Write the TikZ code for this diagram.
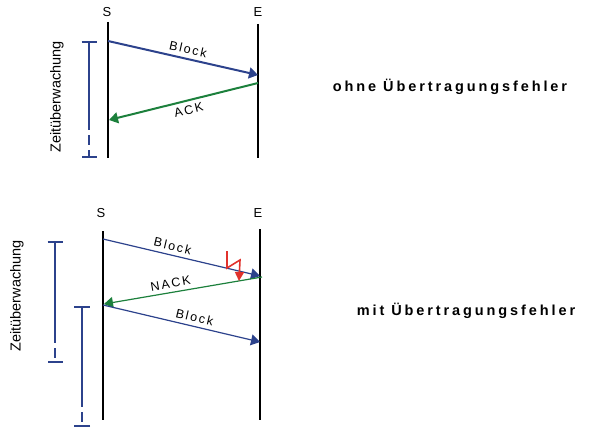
\documentclass[tikz,border=0pt]{standalone}
\usepackage{fontspec}
\setmainfont{Liberation Sans}
\newfontfamily\widefont[LetterSpace=15]{Liberation Sans}
\newfontfamily\capfont[LetterSpace=20]{Liberation Sans}
\usetikzlibrary{arrows.meta}
\definecolor{msgblue}{RGB}{44,66,140}
\definecolor{msggreen}{RGB}{28,128,60}
\definecolor{errred}{RGB}{225,50,45}

\begin{document}
\begin{tikzpicture}[x=1pt, y=-1pt,
    station/.style={font=\fontsize{13}{15}\selectfont},
    lifeline/.style={draw=black, line width=2.6pt},
    thinlife/.style={draw=black, line width=1.9pt},
    blockmsg/.style={draw=msgblue, -{Triangle[length=9pt,width=11pt]}},
    ackmsg/.style={draw=msggreen, -{Triangle[length=9pt,width=11pt]}},
    msglabel/.style={font=\widefont\fontsize{12.5}{14}\selectfont, sloped, inner sep=1pt},
    timer/.style={draw=msgblue, line width=2.3pt},
    watch/.style={font=\fontsize{14.5}{16}\selectfont, rotate=90},
    caption/.style={font=\capfont\bfseries\fontsize{14.5}{17}\selectfont}]

\useasboundingbox (0,0) rectangle (589,428);

% ohne Fehler
\node[station] at (107, 12)  (s1) {S};
\node[station] at (258, 12)  (e1) {E};
\coordinate (s1top) at (108, 22);
\coordinate (s1bot) at (108, 158);
\coordinate (e1top) at (258, 24);
\coordinate (e1bot) at (258, 158);
\draw[lifeline] (s1top) -- (s1bot);
\draw[lifeline] (e1top) -- (e1bot);

\coordinate (s1out) at (108, 41);
\coordinate (e1in)  at (258, 75);
\coordinate (e1out) at (258, 83);
\coordinate (s1in)  at (109, 120);

\path
    (s1out) edge [blockmsg, line width=2pt] node[msglabel, above=3pt, pos=0.52] {Block} (e1in)
    (e1out) edge [ackmsg, line width=2pt] node[msglabel, below=3pt, pos=0.48] {ACK} (s1in);

\coordinate (w1top)  at (89, 41);
\coordinate (w1dash) at (89, 120);
\coordinate (w1bot)  at (89, 158);
\draw[timer, {Bar[width=15pt]}-] (w1top) -- (w1dash);
\draw[timer, dash pattern=on 10pt off 5pt, -{Bar[width=15pt]}] (w1dash) -- ++(0,3) -- (w1bot);
\node[watch] at (57, 97) (z1) {Zeitüberwachung};

\node[caption] at (450, 87) (c1) {ohne Übertragungsfehler};

% mit Fehler
\node[station] at (101, 213) (s2) {S};
\node[station] at (258, 213) (e2) {E};
\coordinate (s2top) at (103, 231);
\coordinate (s2bot) at (103, 420);
\coordinate (e2top) at (260, 229);
\coordinate (e2bot) at (260, 420);
\draw[thinlife] (s2top) -- (s2bot);
\draw[thinlife] (e2top) -- (e2bot);

\coordinate (s2out)  at (103, 239);
\coordinate (e2in)   at (260, 276);
\coordinate (e2out)  at (262, 277);
\coordinate (s2in)   at (104, 304);
\coordinate (s2rep)  at (103, 305);
\coordinate (e2rep)  at (260, 342);

\path
    (s2out) edge [blockmsg, line width=1.2pt] node[msglabel, above=3pt, pos=0.43] {Block} (e2in)
    (e2out) edge [ackmsg, line width=1.2pt] node[msglabel, above=3pt, pos=0.57] {NACK} (s2in)
    (s2rep) edge [blockmsg, line width=1.2pt] node[msglabel, above=3pt, pos=0.57] {Block} (e2rep);

% Blitz
\coordinate (flash) at (227, 251);
\draw[errred, line width=1.6pt, -{Triangle[length=9pt,width=9pt]}]
    (flash) -- ++(0, 17) -- ++(13, -8) -- ++(-1, 21);

\coordinate (w2top)  at (55, 241);
\coordinate (w2dash) at (55, 333);
\coordinate (w2bot)  at (55, 363);
\draw[timer, line width=2pt, {Bar[width=15pt]}-] (w2top) -- (w2dash);
\draw[timer, line width=2pt, dash pattern=on 10pt off 5pt, -{Bar[width=15pt]}] (w2dash) -- ++(0,3) -- (w2bot);

\coordinate (w3top)  at (82, 306);
\coordinate (w3dash) at (82, 397);
\coordinate (w3bot)  at (82, 427);
\draw[timer, line width=2pt, {Bar[width=16pt]}-] (w3top) -- (w3dash);
\draw[timer, line width=2pt, dash pattern=on 10pt off 5pt, -{Bar[width=16pt]}] (w3dash) -- ++(0,3) -- (w3bot);
\node[watch] at (17, 296) (z2) {Zeitüberwachung};

\node[caption] at (466, 311) (c2) {mit Übertragungsfehler};

\end{tikzpicture}
\end{document}
